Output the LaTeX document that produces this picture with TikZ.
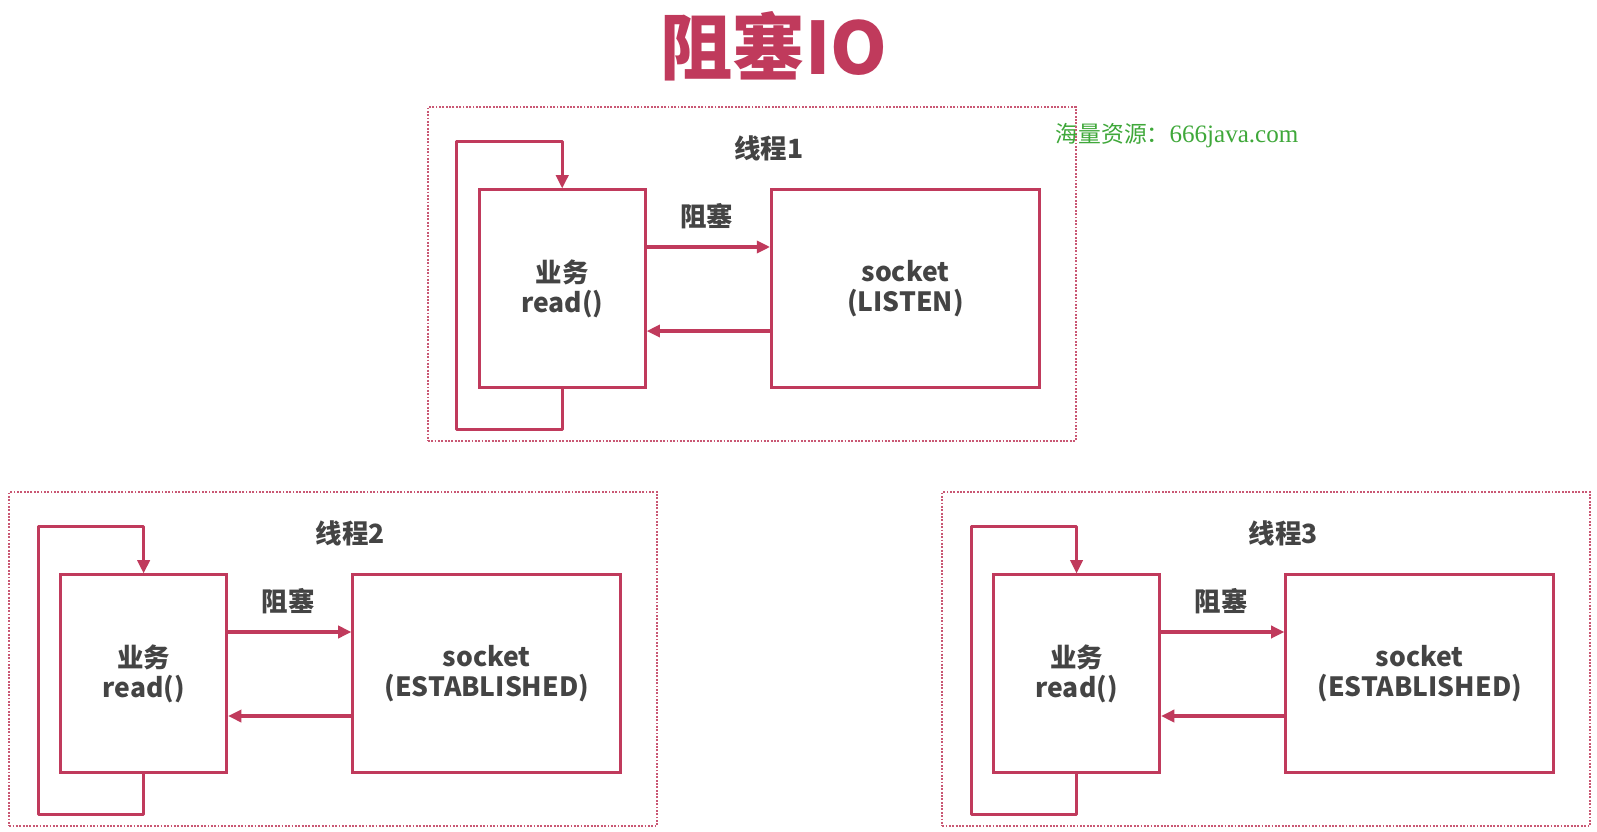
\documentclass[tikz,border=0pt]{standalone}
\usepackage{fontspec}
\usetikzlibrary{arrows.meta,calc}
\newfontfamily\cjk{Noto Sans CJK SC}
\newfontfamily\wmserif{Liberation Serif}
\definecolor{crim}{HTML}{C03A5C}
\definecolor{txt}{HTML}{444444}
\definecolor{wmgreen}{HTML}{3FA83A}
\begin{document}
\begin{tikzpicture}[x=0.5pt,y=-0.5pt,
  lbl/.style={font=\cjk\bfseries\fontsize{13}{15}\selectfont, text=txt, align=center, inner sep=0pt},
  box/.style={lbl, draw=crim, line width=1.5pt, minimum width=81.5pt, minimum height=97pt, anchor=north west},
  link/.style={draw=crim, line width=1.5pt, line join=round, -{Triangle[length=6.5pt,width=6pt]}},
  frame/.style={draw=crim!85, line width=1.1pt, dash pattern=on 0.9pt off 0.75pt, minimum width=318pt, minimum height=164pt, anchor=north west, inner sep=0pt},
  pics/thread/.style 2 args={code={
    % dotted frame around one thread
    \node[frame] (-F) at (-50,-81) {};
    \node[lbl] (-T) at (286,-39) {#1};
    % business logic box and socket box
    \node[box] (-L) at (0,0) {业务\\read()};
    \node[box, minimum width=131.5pt] (-R) at (287,0) {socket\\#2};
    \node[lbl] (-B) at (225,27) {阻塞};
    \draw[link] ($(-L.north east)+(0,57.5)$) -- ($(-R.north west)+(0,57.5)$);
    \draw[link] ($(-R.north west)+(0,140)$) -- ($(-L.north east)+(0,140)$);
    % loop back into read()
    \draw[link] (-L.south) -- ++(0,40) -- ++(-103.5,0) -- ++(0,-283) -- ++(103.5,0) -- (-L.north);
  }}]
\useasboundingbox (0,0) rectangle (1568,816);
\fill[white] (0,0) rectangle (1568,816);

\node[font=\cjk\bfseries\fontsize{35.5}{40}\selectfont, text=crim, inner sep=0pt] (title) at (760,45) {阻塞IO};
\node[text=wmgreen, inner sep=0pt, anchor=west] (wm) at (1036,133)
  {\cjk\fontsize{11.2}{13}\selectfont 海量资源：\wmserif\fontsize{12.3}{13}\selectfont 666java.com};

\pic (t1) at (469,185) {thread={线程1}{(LISTEN)}};
\pic (t2) at (58,563) {thread={线程2}{(ESTABLISHED)}};
\pic (t3) at (974,563) {thread={线程3}{(ESTABLISHED)}};
\end{tikzpicture}
\end{document}
